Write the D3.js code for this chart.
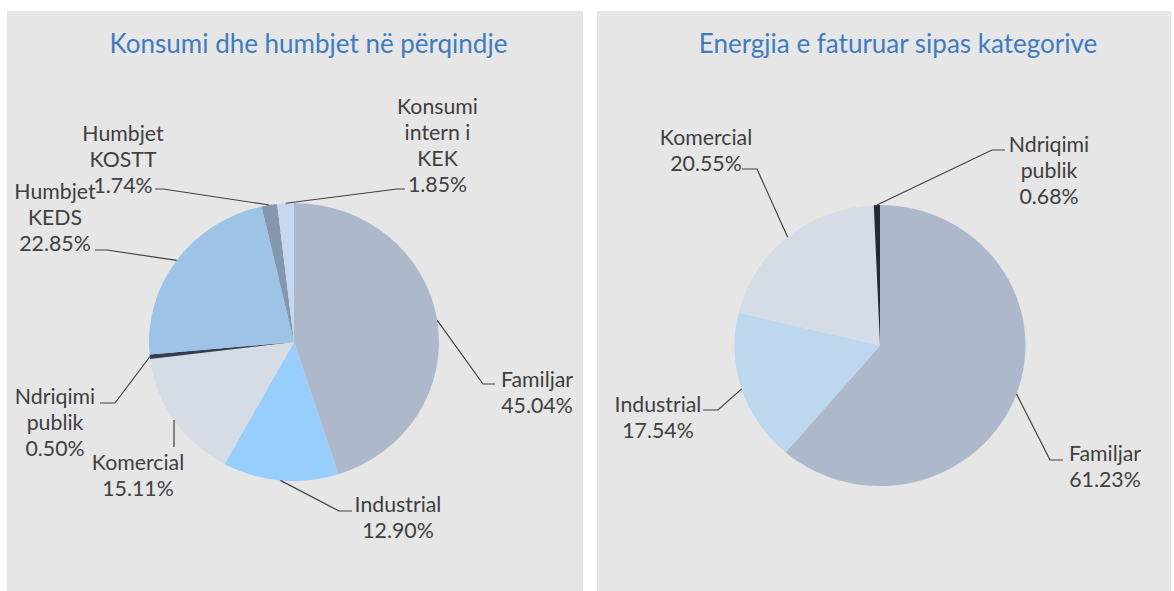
<!DOCTYPE html>
<html><head><meta charset="utf-8">
<script src="https://cdn.jsdelivr.net/npm/d3@7"></script>
<style>body{margin:0;background:#fff} svg text{font-family:Lato,"Open Sans",sans-serif}</style>
</head><body><svg id="c" width="1174" height="591"></svg>
<script>
// ---- data ----
const titles = ["Konsumi dhe humbjet në përqindje", "Energjia e faturuar sipas kategorive"];
const leftCategories = ["Familjar", "Industrial", "Komercial", "Ndriqimi publik", "Humbjet KEDS", "Humbjet KOSTT", "Konsumi intern i KEK"];
const leftValues = [45.04, 12.90, 15.11, 0.50, 22.85, 1.74, 1.85];
const leftLabelLines = [["Familjar"], ["Industrial"], ["Komercial"], ["Ndriqimi", "publik"], ["Humbjet", "KEDS"], ["Humbjet", "KOSTT"], ["Konsumi", "intern i", "KEK"]];
const rightCategories = ["Familjar", "Industrial", "Komercial", "Ndriqimi publik"];
const rightValues = [61.23, 17.54, 20.55, 0.68];
const rightLabelLines = [["Familjar"], ["Industrial"], ["Komercial"], ["Ndriqimi", "publik"]];

// ---- styles / layout ----
const leftColors = ["#adb9ca", "#97cefc", "#d6dce5", "#333f50", "#9dc3e6", "#8497b0", "#c5d8f0"];
const rightColors = ["#adb9ca", "#bdd7ee", "#d6dce5", "#222a35"];

const leftLayout = {
  "Familjar": {x: 537, y: 380, path: [[483, 384], [495, 384]]},
  "Industrial": {x: 398, y: 505, path: [[339, 511], [352, 511]]},
  "Komercial": {x: 138, y: 463, path: [[174, 447]]},
  "Ndriqimi publik": {x: 55, y: 397, path: [[115, 403], [100, 403]]},
  "Humbjet KEDS": {x: 55, y: 192, path: [[107, 250], [95, 250]]},
  "Humbjet KOSTT": {x: 123, y: 134, path: [[163, 189], [155, 189]]},
  "Konsumi intern i KEK": {x: 437.5, y: 107, path: [[397, 189], [405, 189]]}
};
const rightLayout = {
  "Familjar": {x: 1105, y: 454, path: [[1050, 460], [1063, 460]]},
  "Industrial": {x: 658, y: 405, path: [[718, 410], [703, 410]]},
  "Komercial": {x: 706, y: 138, path: [[757, 169], [742, 169]]},
  "Ndriqimi publik": {x: 1049, y: 145, path: [[992, 150], [1005, 150]]}
};

const svg = d3.select("#c");
const fmt = d3.format(".2f");
const LH = 25.7;

function panel(p) {
  svg.append("rect").attr("x", p.x).attr("y", p.y).attr("width", p.w).attr("height", p.h).attr("fill", "#e6e6e6");
  svg.append("text").attr("x", p.tx).attr("y", 44).attr("dy", "0.35em").attr("text-anchor", "middle")
    .attr("font-size", "26px").attr("fill", "#3f7cbf").text(p.title);

  const pie = d3.pie().sort(null).value(d => d.v);
  const data = pie(p.cats.map((c, i) => ({c, v: p.vals[i], lines: p.lines[i], color: p.colors[i]})));
  const arc = d3.arc().innerRadius(0).outerRadius(p.rx);
  const g = svg.append("g").attr("transform", `translate(${p.cx},${p.cy}) scale(1,${p.ry / p.rx})`);
  g.selectAll("path").data(data).join("path").attr("d", arc).attr("fill", d => d.data.color);

  data.forEach(d => {
    const a = (d.startAngle + d.endAngle) / 2;
    const edge = [p.cx + p.rx * Math.sin(a), p.cy - p.ry * Math.cos(a)];
    const L = p.layout[d.data.c];
    svg.append("path").attr("d", d3.line()([edge, ...L.path]))
      .attr("fill", "none").attr("stroke", "#404040").attr("stroke-width", 1.2);
    const lines = [...d.data.lines, fmt(d.data.v) + "%"];
    const t = svg.append("text").attr("text-anchor", "middle").attr("font-size", "21.3px").attr("fill", "#404040");
    lines.forEach((s, i) => {
      t.append("tspan").attr("x", L.x).attr("y", L.y + i * LH).attr("dy", "0.35em").text(s);
    });
  });
}

panel({x: 7, y: 11, w: 576, h: 580, tx: 308.5, title: titles[0], cats: leftCategories, vals: leftValues,
  lines: leftLabelLines, colors: leftColors, layout: leftLayout, cx: 294, cy: 342, rx: 145, ry: 139});
panel({x: 597, y: 11, w: 574, h: 580, tx: 898, title: titles[1], cats: rightCategories, vals: rightValues,
  lines: rightLabelLines, colors: rightColors, layout: rightLayout, cx: 880, cy: 345.5, rx: 145.5, ry: 140.5});
</script></body></html>
